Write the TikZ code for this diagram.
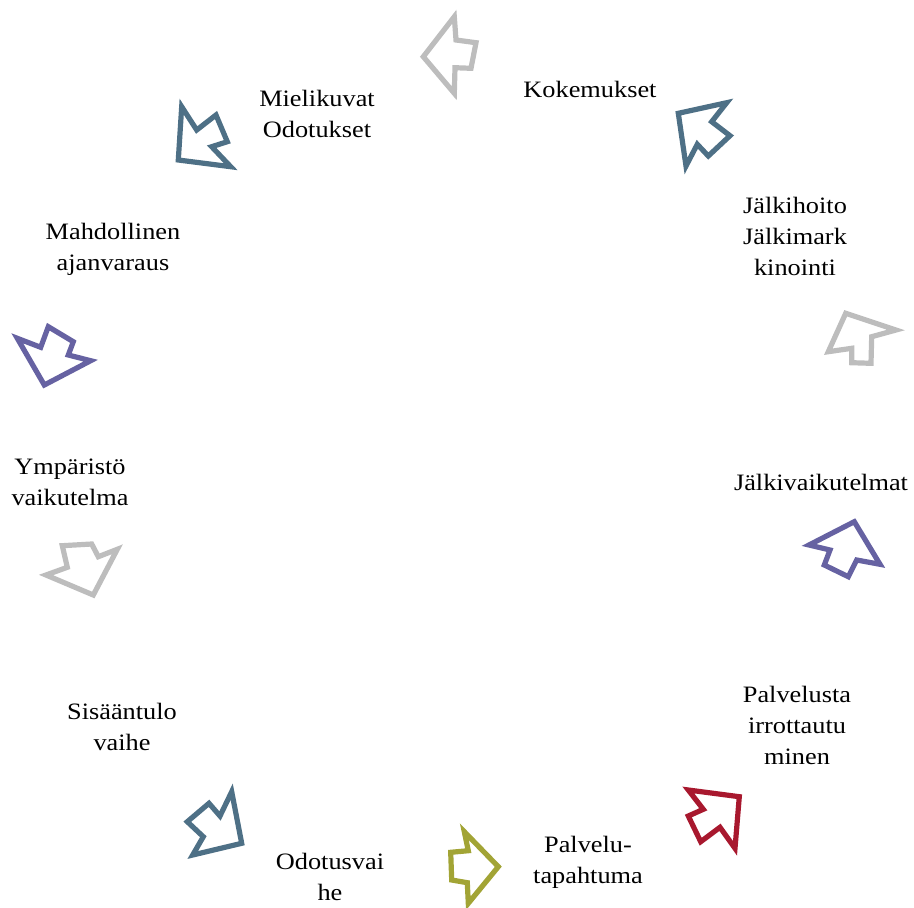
\documentclass[tikz,border=0pt]{standalone}
\usepackage{fontspec}
\setmainfont[FakeStretch=1.12]{Liberation Serif}
\definecolor{agray}{HTML}{BDBDBD}
\definecolor{aslate}{HTML}{4E7086}
\definecolor{apurple}{HTML}{6662A2}
\definecolor{aolive}{HTML}{A2A435}
\definecolor{ared}{HTML}{A8182E}
\tikzset{
  blk/.style={line width=5.2pt, line join=miter, fill=none},
  lbl/.style={align=center, inner sep=0pt, font=\fontsize{23.5}{31}\selectfont},
}
\begin{document}
\begin{tikzpicture}[x=1pt,y=-1pt]
\useasboundingbox (0,0) rectangle (914,908);
% arrows
\draw[blk,agray] (423.3,56.7) -- (454.3,16.7) -- (456,40) -- (476,42.7) -- (471,68.3) -- (455,67.7) -- (454.3,93.3) -- cycle;
\draw[blk,aslate] (678.3,113.3) -- (726.7,102.7) -- (711.7,121.7) -- (730,135.7) -- (708.3,156) -- (697.3,144.3) -- (686,166) -- cycle;
\draw[blk,aslate] (181.7,106.7) -- (196.7,130) -- (216,115) -- (227.3,141.7) -- (211.7,146.7) -- (230.7,166.7) -- (178.3,160) -- cycle;
\draw[blk,apurple] (17.3,338.3) -- (40.7,347.3) -- (48.3,326.7) -- (73.3,341.7) -- (68.3,355) -- (90.7,360.7) -- (44.3,385) -- cycle;
\draw[blk,agray] (62.3,545.7) -- (91.7,544) -- (98.3,556.7) -- (117.3,549.3) -- (93.3,595) -- (46,575) -- (67.3,567.3) -- cycle;
\draw[blk,aslate] (231.7,791.7) -- (220,816) -- (209,803.3) -- (187.3,821.7) -- (203.3,836.7) -- (192.7,855) -- (241.7,843.3) -- cycle;
\draw[blk,aolive] (464.3,831.7) -- (468.3,850.7) -- (450.7,852.3) -- (451.7,880) -- (467.3,882.7) -- (468.3,903.3) -- (498.3,866.7) -- cycle;
\draw[blk,ared] (688.3,790) -- (703.3,809.3) -- (688.3,816) -- (700.7,841.7) -- (720,827.3) -- (735,848.3) -- (739.3,796.7) -- cycle;
\draw[blk,apurple] (809,545) -- (830,550) -- (824.3,565) -- (848.3,576.7) -- (856.7,560) -- (880,564.3) -- (854.3,521.7) -- cycle;
\draw[blk,agray] (845.7,313.3) -- (896,330) -- (871.7,336.7) -- (871,363.3) -- (851.7,362.7) -- (851.7,348.3) -- (828.3,351.7) -- cycle;
% labels
\node[lbl] (kok) at (590,89) {Kokemukset};
\node[lbl] (mie) at (317,114) {Mielikuvat\\Odotukset};
\node[lbl] (jhoi) at (795,236) {Jälkihoito\\Jälkimark\\kinointi};
\node[lbl] (mah) at (113,249) {Mahdollinen\\ajanvaraus};
\node[lbl] (ymp) at (70,482) {Ympäristö\\vaikutelma};
\node[lbl] (jvai) at (821,482) {Jälkivaikutelmat};
\node[lbl] (sis) at (122,727) {Sisääntulo\\vaihe};
\node[lbl] (pirr) at (797,725) {Palvelusta\\irrottautu\\minen};
\node[lbl] (odo) at (330,877) {Odotusvai\\he};
\node[lbl] (ptap) at (588,862) {Palvelu-\\tapahtuma};
\end{tikzpicture}
\end{document}
